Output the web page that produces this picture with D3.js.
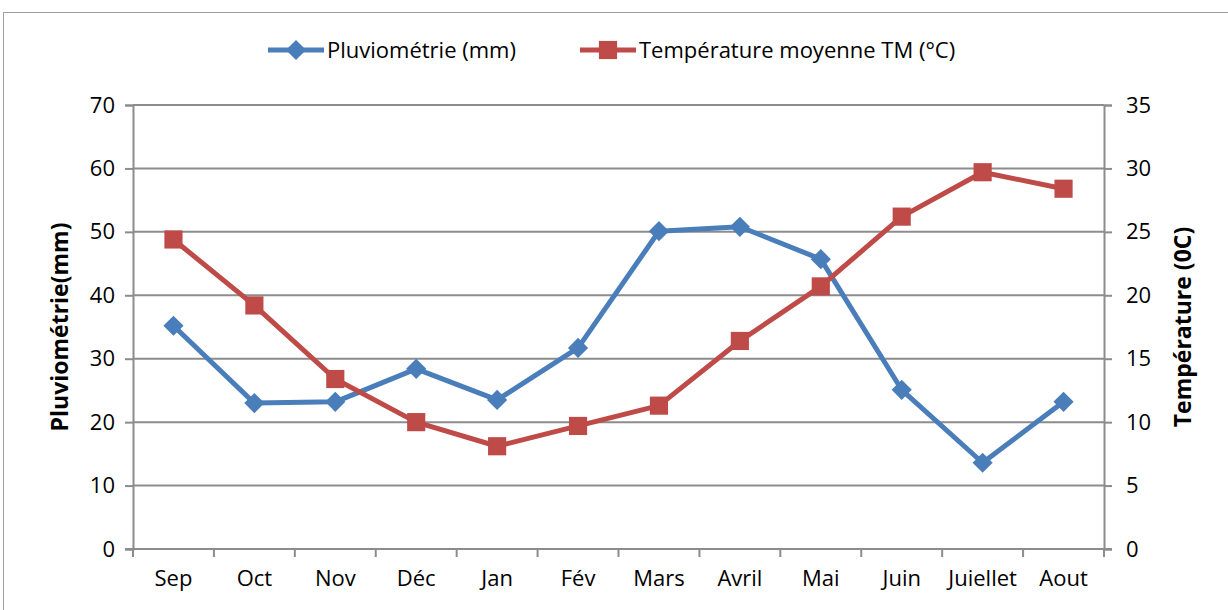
<!DOCTYPE html>
<html>
<head>
<meta charset="utf-8">
<script src="https://cdn.jsdelivr.net/npm/d3@7"></script>
<style>
  body { margin: 0; background: #fff; }
  text { font-family: "Open Sans", "Liberation Sans", sans-serif; fill: #000; }
</style>
</head>
<body>
<div id="chart"></div>
<script>
// Data
const months = ["Sep", "Oct", "Nov", "Déc", "Jan", "Fév", "Mars", "Avril", "Mai", "Juin", "Juiellet", "Aout"];
const pluvio = [35.2, 23.0, 23.2, 28.4, 23.5, 31.7, 50.1, 50.8, 45.7, 25.1, 13.6, 23.2];
const temperature = [24.4, 19.2, 13.4, 10.0, 8.1, 9.7, 11.3, 16.4, 20.7, 26.2, 29.7, 28.4];
const leftTicks = [0, 10, 20, 30, 40, 50, 60, 70];
const rightTicks = [0, 5, 10, 15, 20, 25, 30, 35];

const W = 1228, H = 610;
const margin = { top: 105, right: 124, bottom: 61, left: 133 };
const blue = "#4A7EBB", red = "#BE4B48", grid = "#8c8c8c";

const svg = d3.select("#chart").append("svg")
    .attr("width", W)
    .attr("height", H);

// outer chart border
svg.append("rect")
    .attr("x", 3.5).attr("y", 12.5)
    .attr("width", W + 10).attr("height", H + 10)
    .attr("fill", "none").attr("stroke", "#a0a0a0").attr("stroke-width", 1);

const x = d3.scaleBand().domain(months).range([margin.left, W - margin.right]);
const yL = d3.scaleLinear().domain([0, 70]).range([H - margin.bottom, margin.top]);
const yR = d3.scaleLinear().domain([0, 35]).range([H - margin.bottom, margin.top]);

// gridlines
svg.append("g")
    .selectAll("line")
    .data(leftTicks.slice(1))
    .join("line")
    .attr("x1", margin.left).attr("x2", W - margin.right)
    .attr("y1", d => yL(d)).attr("y2", d => yL(d))
    .attr("stroke", grid).attr("stroke-width", 2);

// axes
const leftAxis = svg.append("g")
    .attr("transform", `translate(${margin.left},0)`)
    .call(d3.axisLeft(yL).tickValues(leftTicks).tickSize(8).tickPadding(10));
const rightAxis = svg.append("g")
    .attr("transform", `translate(${W - margin.right},0)`)
    .call(d3.axisRight(yR).tickValues(rightTicks).tickSize(8).tickPadding(14));
const bottomAxis = svg.append("g")
    .attr("transform", `translate(0,${H - margin.bottom})`)
    .call(d3.axisBottom(x).tickSize(0).tickPadding(21));

[leftAxis, rightAxis, bottomAxis].forEach(a => {
    a.selectAll(".domain").attr("stroke", grid).attr("stroke-width", 2);
    a.selectAll(".tick line").attr("stroke", grid).attr("stroke-width", 2);
    a.selectAll("text").style("font-size", "22px").attr("fill", "#000");
});
bottomAxis.select(".domain").attr("d", `M${margin.left - 8},0H${W - margin.right + 8}`);

// category boundary tick marks on x axis
svg.append("g")
    .selectAll("line")
    .data(months.concat([null]))
    .join("line")
    .attr("x1", (d, i) => margin.left + i * x.bandwidth())
    .attr("x2", (d, i) => margin.left + i * x.bandwidth())
    .attr("y1", H - margin.bottom).attr("y2", H - margin.bottom + 8)
    .attr("stroke", grid).attr("stroke-width", 2);

// axis titles
svg.append("text")
    .attr("transform", `translate(68,${(margin.top + H - margin.bottom) / 2}) rotate(-90)`)
    .attr("text-anchor", "middle")
    .style("font-size", "23px").style("font-weight", "bold")
    .text("Pluviométrie(mm)");
svg.append("text")
    .attr("transform", `translate(1191,${(margin.top + H - margin.bottom) / 2}) rotate(-90)`)
    .attr("text-anchor", "middle")
    .style("font-size", "23px").style("font-weight", "bold")
    .text("Température (0C)");

const cx = d => x(d) + x.bandwidth() / 2;

const line = (scale, vals) => d3.line()
    .x((d, i) => cx(months[i]))
    .y(d => scale(d))(vals);

svg.append("path")
    .attr("d", line(yL, pluvio))
    .attr("fill", "none").attr("stroke", blue).attr("stroke-width", 5)
    .attr("stroke-linejoin", "round");
svg.append("path")
    .attr("d", line(yR, temperature))
    .attr("fill", "none").attr("stroke", red).attr("stroke-width", 5)
    .attr("stroke-linejoin", "round");

const diamond = d3.symbol().type(d3.symbolDiamond2).size(260);
const square = d3.symbol().type(d3.symbolSquare).size(330);

svg.append("g").selectAll("path")
    .data(pluvio)
    .join("path")
    .attr("transform", (d, i) => `translate(${cx(months[i])},${yL(d)})`)
    .attr("d", diamond)
    .attr("fill", blue);
svg.append("g").selectAll("path")
    .data(temperature)
    .join("path")
    .attr("transform", (d, i) => `translate(${cx(months[i])},${yR(d)})`)
    .attr("d", square)
    .attr("fill", red);

// legend
const legend = [
    { name: "Pluviométrie (mm)", color: blue, sym: diamond, x: 268 },
    { name: "Température moyenne TM (°C)", color: red, sym: square, x: 580 }
];
const lg = svg.append("g").selectAll("g")
    .data(legend)
    .join("g")
    .attr("transform", d => `translate(${d.x},50)`);
lg.append("line")
    .attr("x1", 0).attr("x2", 56)
    .attr("stroke", d => d.color).attr("stroke-width", 5);
lg.append("path")
    .attr("transform", "translate(28,0)")
    .attr("d", d => d.sym())
    .attr("fill", d => d.color);
lg.append("text")
    .attr("x", 59).attr("dy", "0.35em")
    .style("font-size", "22px")
    .text(d => d.name);
</script>
</body>
</html>
